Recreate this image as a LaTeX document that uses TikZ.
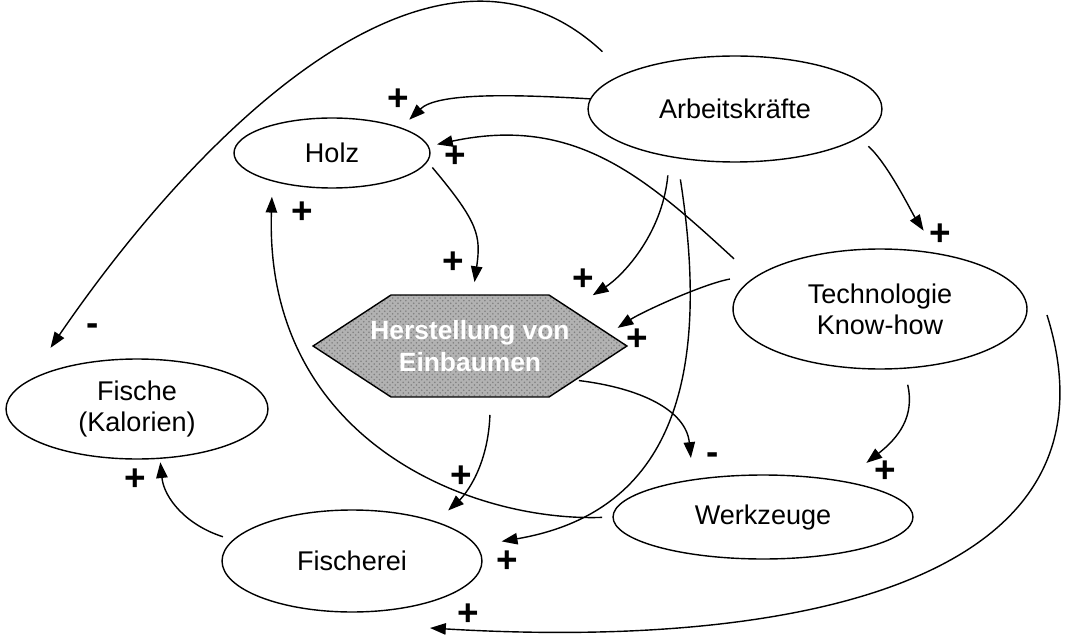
\documentclass[tikz,border=0pt]{standalone}
\usepackage{fontspec}
\setmainfont{Liberation Sans}
\usetikzlibrary{shapes.geometric}
\usetikzlibrary{shapes.symbols}
\usetikzlibrary{arrows.meta}
\usetikzlibrary{patterns}

\tikzset{
    feld/.style={draw, ellipse, line width=0.8pt, inner sep=0pt, outer sep=0pt, align=center, font=\fontsize{15.4}{17.6}\selectfont},
    pfeil/.style={line width=0.8pt, -{Triangle[length=9pt,width=6.5pt]}},
    vz/.style={font=\fontsize{21}{21}\selectfont\bfseries, inner sep=0pt}
}

\begin{document}
\begin{tikzpicture}[x=0.02cm, y=-0.02cm]
    \useasboundingbox (0,0) rectangle (1070,638);

    \node[feld, minimum width=5.88cm, minimum height=2.12cm] (arbeit) at (735,109) {Arbeitskräfte};
    \node[feld, minimum width=3.92cm, minimum height=1.4cm] (holz) at (332,153) {Holz};
    \node[feld, minimum width=5.88cm, minimum height=2.4cm] (technik) at (880,309) {Technologie\\Know-how};
    \node[feld, minimum width=5.24cm, minimum height=2cm] (fische) at (137,409) {Fische\\(Kalorien)};
    \node[feld, minimum width=5.2cm, minimum height=2.04cm] (fischerei) at (352,561) {Fischerei};
    \node[feld, minimum width=6cm, minimum height=1.68cm] (werkzeug) at (763,517) {Werkzeuge};
    \node[draw, signal, signal to=west and east, signal pointer angle=66.4, minimum height=2.04cm,
          inner sep=0pt, outer sep=0pt, line width=0.8pt, preaction={fill=black!30}, pattern=crosshatch dots, pattern color=black!50,
          text=white, align=center, font=\fontsize{15}{18}\selectfont\bfseries] (herstellung) at (470,346)
          {\makebox[3.16cm]{Herstellung von}\\\makebox[3.16cm]{Einbaumen}};

    \draw[pfeil, shorten <=0.64cm, shorten >=0.82cm] (arbeit.162) .. controls (440,-100) and (208,118) .. (fische.166);
    \draw[pfeil, shorten >=0.24cm] (arbeit.176) .. controls (509,94) and (437,93) .. (holz.20);
    \draw[pfeil, shorten <=0.56cm, shorten >=0.18cm] (technik.166) .. controls (645,177) and (575,115) .. (holz.4);
    \draw[pfeil, shorten <=0.16cm, shorten >=0.26cm] (holz.-5) .. controls (479,223) and (481,236) .. (herstellung.87);
    \draw[pfeil, shorten <=0.22cm, shorten >=0.32cm] (werkzeug.west) .. controls (470,522) and (264,440) .. (holz.205);
    \draw[pfeil, shorten <=0.38cm, shorten >=0.52cm] (arbeit.216) .. controls (662,236) and (621,277) .. (herstellung.20);
    \draw[pfeil, shorten <=0.44cm, shorten >=0.52cm] (arbeit.220) .. controls (711,376) and (674,512) .. (fischerei.7);
    \draw[pfeil, shorten <=0.66cm, shorten >=0.22cm] (technik.163) .. controls (703,284) and (642,312) .. (herstellung.5);
    \draw[pfeil, shorten <=0.26cm, shorten >=0.56cm] (arbeit.-13) .. controls (888,164) and (912,213) .. (technik.43);
    \draw[pfeil, shorten <=0.34cm, shorten >=0.6cm] (technik.-68) .. controls (915,417) and (898,438) .. (werkzeug.24);
    \draw[pfeil] ([shift={(20,6)}]technik.east) .. controls (1130,580) and (800,650) .. ([shift={(78,16)}]fischerei.south);
    \draw[pfeil, shorten <=0.08cm, shorten >=0.44cm] (herstellung.-18) .. controls (640,388) and (686,410) .. (werkzeug.152);
    \draw[pfeil, shorten <=0.36cm, shorten >=0.34cm] (herstellung.-68) .. controls (488,467) and (465,495) .. (fischerei.25);
    \draw[pfeil, shorten <=0.22cm, shorten >=0.08cm] (fischerei.170) .. controls (186,525) and (164,498) .. (fische.-65);

    \node[vz] (s1) at (93,330) {-};
    \node[vz] (s2) at (398,100) {+};
    \node[vz] (s3) at (455,157) {+};
    \node[vz] (s4) at (453,263) {+};
    \node[vz] (s5) at (302,213) {+};
    \node[vz] (s6) at (583,280) {+};
    \node[vz] (s7) at (507,562) {+};
    \node[vz] (s8) at (637,340) {+};
    \node[vz] (s9) at (940,235) {+};
    \node[vz] (s10) at (885,472) {+};
    \node[vz] (s11) at (468,615) {+};
    \node[vz] (s12) at (713,459) {-};
    \node[vz] (s13) at (461,477) {+};
    \node[vz] (s14) at (135,480) {+};
\end{tikzpicture}
\end{document}
